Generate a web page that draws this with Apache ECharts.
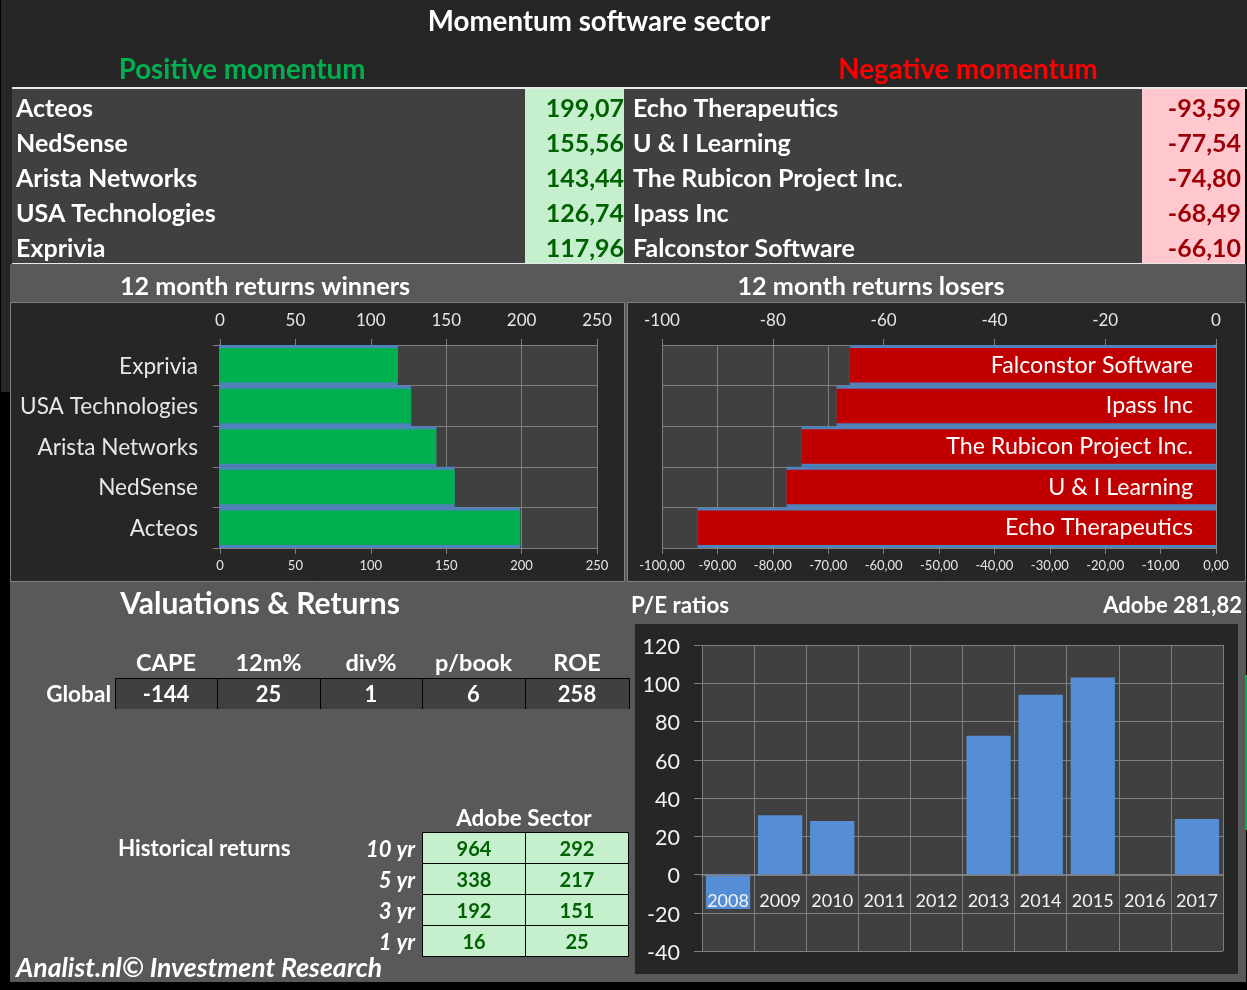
<!DOCTYPE html>
<html><head><meta charset="utf-8">
<style>html,body{margin:0;padding:0;background:#000}#c{width:1247px;height:990px}</style>
<script src="https://cdn.jsdelivr.net/npm/echarts@6/dist/echarts.min.js"></script>
</head><body><div id="c"></div>
<script>
const winners = ['Acteos','NedSense','Arista Networks','USA Technologies','Exprivia'];
const winnerValues = [199.07,155.56,143.44,126.74,117.96];
const losers = ['Echo Therapeutics','U & I Learning','The Rubicon Project Inc.','Ipass Inc','Falconstor Software'];
const loserValues = [-93.59,-77.54,-74.80,-68.49,-66.10];
const valuationHeads = ['CAPE','12m%','div%','p/book','ROE'];
const valuationValues = ['-144','25','1','6','258'];
const periods = ['10 yr','5 yr','3 yr','1 yr'];
const adobeReturns = ['964','338','192','16'];
const sectorReturns = ['292','217','151','25'];
const years = ['2008','2009','2010','2011','2012','2013','2014','2015','2016','2017'];
const peValues = [-18,31,28,0,0,72.5,94,103,0,29];

const FONT='Lato';
const GRID='#7f7f7f', PLOT='#404040', PANEL='#262626', GREY='#595959', STRIP='#4f81bd';
const comma=v=>v.toFixed(2).replace('.',',');
const rect=(x,y,w,h,fill,stroke)=>({type:'rect',z:-5,silent:true,shape:{x,y,width:w,height:h},style:{fill,stroke:stroke||null,lineWidth:stroke?1:0}});
const txt=(x,y,t,size,color,align,opt)=>({type:'text',z:50,silent:true,x,y,style:Object.assign({text:t,fontFamily:FONT,fontSize:size,fontWeight:'bold',fill:color||'#fff',align:align||'left',verticalAlign:'middle'},opt||{})});

const g=[];
g.push(rect(1,0,1246,88,PANEL));
g.push(rect(1,88,9,304,PANEL));
g.push(rect(10,88,2,176,PANEL));
g.push(rect(10,264,1236,718,GREY));
g.push(rect(12,87,1235,2,'#e8e8e8'));
g.push(rect(12,89,513,174,PLOT));
g.push(rect(525,89,99,174,'#c6efce'));
g.push(rect(624,89,4,174,PLOT));
g.push(rect(628,89,514,174,PLOT));
g.push(rect(1142,89,103,174,'#ffc7ce'));
g.push(rect(12,263,1233,1,'#e8e8e8'));
g.push(rect(10.5,302.5,614,279,PANEL,'#7f7f7f'));
g.push(rect(627.5,302.5,618,279,PANEL,'#7f7f7f'));
g.push(rect(635,624,603,350,PANEL));
g.push(rect(1245,675,2,155,'#00b050'));

g.push(txt(599,22,'Momentum software sector',27.7,'#fff','center'));
g.push(txt(242,70,'Positive momentum',27.7,'#00b050','center'));
g.push(txt(968,70,'Negative momentum',27.7,'#ff0000','center'));
winners.forEach((n,i)=>{const y=109+35*i;
  g.push(txt(16,y,n,25,'#fff'));
  g.push(txt(624,y,comma(winnerValues[i]),25,'#006100','right'));
  g.push(txt(633,y,losers[i],25,'#fff'));
  g.push(txt(1241,y,comma(loserValues[i]),25,'#9c0006','right'));
});
g.push(txt(265,287,'12 month returns winners',25.2,'#fff','center'));
g.push(txt(871,287,'12 month returns losers',25.2,'#fff','center'));
g.push(txt(260,604,'Valuations & Returns',30,'#fff','center'));
g.push(txt(631,606,'P/E ratios',22.4,'#fff'));
g.push(txt(1242,606,'Adobe 281,82',22,'#fff','right'));

const colX=[115,217,320,422,525,629];
valuationHeads.forEach((h,i)=>{
  const c=(colX[i]+colX[i+1])/2;
  g.push(txt(c,663,h,23.5,'#fff','center'));
  g.push(rect(colX[i],678,colX[i+1]-colX[i],31,PLOT));
  g.push(txt(c,695,valuationValues[i],22,'#fff','center'));
});
g.push({type:'polyline',z:-4,silent:true,shape:{points:[[115.5,709],[115.5,678.5],[629,678.5]]},style:{stroke:'#000',lineWidth:1,fill:null}});
colX.slice(1).forEach(x=>g.push({type:'line',z:-4,silent:true,shape:{x1:x+.5,y1:678,x2:x+.5,y2:709},style:{stroke:'#000',lineWidth:1}}));
g.push(txt(111,695,'Global',22.6,'#fff','right'));

g.push(txt(524,819,'Adobe Sector',22.4,'#fff','center'));
g.push(txt(118,849,'Historical returns',22.4,'#fff'));
periods.forEach((p,i)=>{const top=832+31*i,c=top+18;
  g.push(txt(415,c,p,22,'#fff','right',{fontStyle:'italic'}));
  g.push(rect(422.5,top+.5,103,31,'#c6efce','#000'));
  g.push(rect(525.5,top+.5,103,31,'#c6efce','#000'));
  g.push(txt(474,c,adobeReturns[i],20,'#006100','center'));
  g.push(txt(577,c,sectorReturns[i],20,'#006100','center'));
});
g.push(txt(16,968,'Analist.nl© Investment Research',26.6,'#fff','left',{fontStyle:'italic'}));

const grids=[
 {left:220,top:345,width:377,height:203,show:true,backgroundColor:PLOT,borderWidth:0},
 {left:662,top:345,width:554,height:203,show:true,backgroundColor:PLOT,borderWidth:0},
 {left:702,top:645,width:521,height:306,show:true,backgroundColor:PLOT,borderWidth:0}
];
const lbl=(size,extra)=>Object.assign({color:'#e6e6e6',fontFamily:FONT,fontSize:size},extra||{});
const split={show:true,lineStyle:{color:GRID,width:1}};
const valAxis=(gridIndex,position,min,max,interval,size,fmt,showSplit)=>({type:'value',gridIndex,position,min,max,interval,
  axisLine:{show:false},axisTick:{show:true,length:6,lineStyle:{color:GRID}},
  axisLabel:lbl(size,{margin:position==='top'?16:11,formatter:fmt}),splitLine:showSplit?split:{show:false}});
const xAxis=[
 valAxis(0,'top',0,250,50,17,null,false),
 valAxis(0,'bottom',0,250,50,13,null,true),
 valAxis(1,'top',-100,0,20,17,null,false),
 valAxis(1,'bottom',-100,0,10,13,v=>comma(v),true),
 {type:'category',gridIndex:2,data:years,position:'bottom',offset:-76,z:10,axisLine:{show:true,onZero:false,lineStyle:{color:GRID}},axisTick:{show:false},
  axisLabel:lbl(18,{margin:17,interval:0,color:'#f2f2f2'}),splitLine:{show:false}},
 {type:'category',gridIndex:2,data:years,position:'top',axisLine:{show:false,onZero:false},axisTick:{show:false},axisLabel:{show:false},
  splitLine:{show:true,interval:0,lineStyle:{color:GRID}}}
];
const catAxis=(gridIndex,data,position,visible,size)=>({type:'category',gridIndex,data,position,show:true,
  axisLine:{show:visible,onZero:false,lineStyle:{color:'#8c8c8c',width:1.5}},
  axisTick:{show:!!size,length:7,lineStyle:{color:GRID}},
  axisLabel:size?lbl(size,{margin:22,interval:0,verticalAlign:'top',lineHeight:2}):{show:false},
  splitLine:visible?{show:true,interval:0,lineStyle:{color:GRID}}:{show:false}});
const yAxis=[
 catAxis(0,winners,'left',true,22.6),
 catAxis(0,winners,'left',false,0),
 catAxis(1,losers,'right',true,0),
 catAxis(1,losers,'right',false,0),
 {type:'value',gridIndex:2,min:-40,max:120,interval:20,position:'left',
  axisLine:{show:false},axisTick:{show:true,length:8,lineStyle:{color:GRID}},
  axisLabel:lbl(21.5,{margin:22,color:'#f2f2f2',verticalAlign:'top',lineHeight:4}),splitLine:split}
];
const series=[
 {name:'winners strip',type:'bar',xAxisIndex:1,yAxisIndex:1,data:winnerValues,barWidth:'100%',itemStyle:{color:STRIP},z:2},
 {name:'winners',type:'bar',xAxisIndex:1,yAxisIndex:0,data:winnerValues,barWidth:'85%',itemStyle:{color:'#00b050'},z:3},
 {name:'losers strip',type:'bar',xAxisIndex:3,yAxisIndex:3,data:loserValues,barWidth:'100%',itemStyle:{color:STRIP},z:2},
 {name:'losers',type:'bar',xAxisIndex:3,yAxisIndex:2,data:loserValues,barWidth:'85%',itemStyle:{color:'#c00000'},z:3,
  label:{show:true,position:'insideRight',distance:23,formatter:'{b}',color:'#fff',fontFamily:FONT,fontSize:23.2}},
 {name:'P/E',type:'bar',xAxisIndex:4,yAxisIndex:4,data:peValues,barCategoryGap:'15%',itemStyle:{color:'#558ed5'},z:3}
];
const chart=echarts.init(document.getElementById('c'),null,{renderer:'canvas'});
chart.setOption({animation:false,backgroundColor:'#000',graphic:{elements:g},grid:grids,xAxis,yAxis,series});
</script></body></html>
